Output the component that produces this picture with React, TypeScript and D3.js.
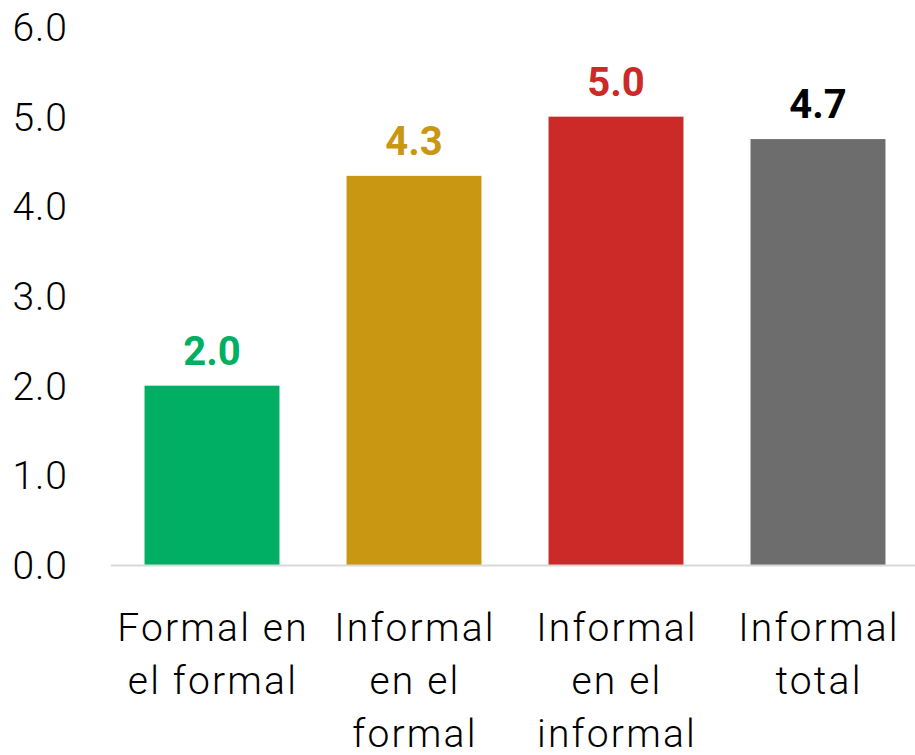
import React from "react";
import * as d3 from "d3";

const categories: string[][] = [
  ["Formal en", "el formal"],
  ["Informal", "en el", "formal"],
  ["Informal", "en el", "informal"],
  ["Informal", "total"],
];
const values: number[] = [2.0, 4.34, 5.0, 4.75];
const valueLabels: string[] = ["2.0", "4.3", "5.0", "4.7"];
const barColors: string[] = ["#00AE64", "#C99712", "#CC2929", "#6D6D6D"];
const labelColors: string[] = ["#00AE64", "#C99712", "#CC2929", "#000000"];
const yTicks: number[] = [0, 1, 2, 3, 4, 5, 6];

const W = 915;
const H = 755;

export default function App() {
  const y = d3.scaleLinear().domain([0, 6]).range([565, 27]);
  const x = d3
    .scaleBand<number>()
    .domain(values.map((_, i) => i))
    .range([111, 919])
    .paddingInner(0.332)
    .paddingOuter(0.166);
  const font = "Roboto, 'Noto Sans', sans-serif";
  return (
    <svg
      width={W}
      height={H}
      style={{ position: "absolute", left: 0, top: 0, background: "#fff" }}
    >
      {yTicks.map((t) => (
        <text
          key={t}
          x={68}
          y={y(t)}
          dy="0.36em"
          textAnchor="end"
          fontFamily={font}
          fontWeight={300}
          fontSize={39}
          letterSpacing={1}
          fill="#000"
        >
          {d3.format(".1f")(t)}
        </text>
      ))}
      {values.map((v, i) => (
        <rect
          key={i}
          x={x(i)}
          y={y(v)}
          width={x.bandwidth()}
          height={y(0) - y(v)}
          fill={barColors[i]}
        />
      ))}
      <line x1={111} x2={915} y1={y(0) + 0.5} y2={y(0) + 0.5} stroke="#d9d9d9" strokeWidth={2} />
      {values.map((v, i) => (
        <text
          key={"v" + i}
          x={(x(i) as number) + x.bandwidth() / 2}
          y={y(v) - 21}
          textAnchor="middle"
          fontFamily={font}
          fontWeight={700}
          fontSize={40}
          fill={labelColors[i]}
        >
          {valueLabels[i]}
        </text>
      ))}
      {categories.map((lines, i) => (
        <text
          key={"c" + i}
          textAnchor="middle"
          fontFamily={font}
          fontWeight={300}
          fontSize={39}
          letterSpacing={2.2}
          fill="#000"
        >
          {lines.map((l, j) => (
            <tspan key={j} x={(x(i) as number) + x.bandwidth() / 2 + 1} y={641 + j * 53}>
              {l}
            </tspan>
          ))}
        </text>
      ))}
    </svg>
  );
}
